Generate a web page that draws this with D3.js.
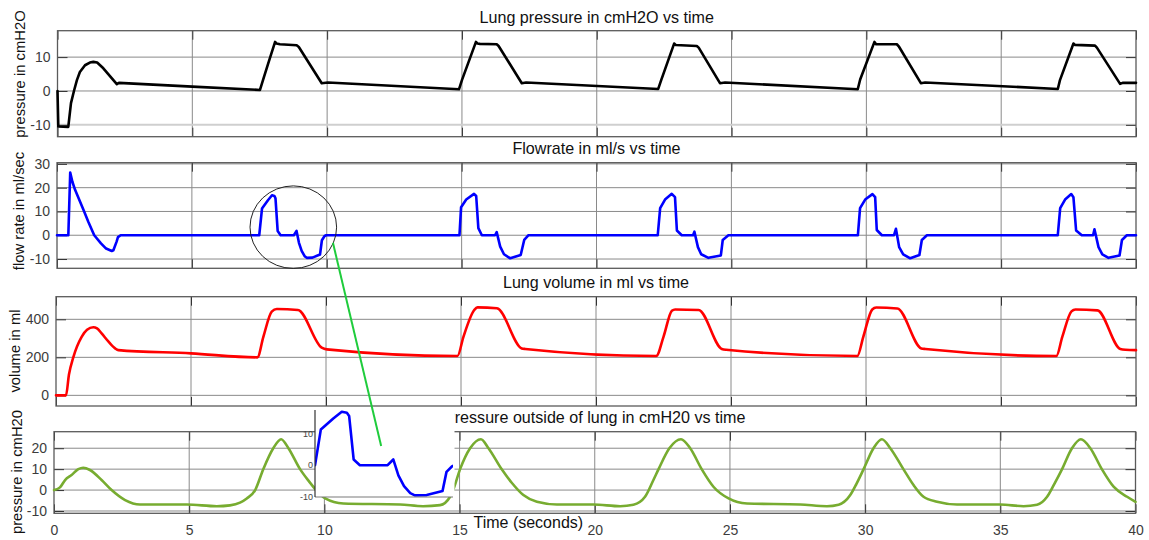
<!DOCTYPE html>
<html><head><meta charset="utf-8">
<script src="https://cdn.jsdelivr.net/npm/d3@7"></script>
<style>
html,body{margin:0;padding:0;background:#fff;}
svg{display:block;font-family:"Liberation Sans",Arial,Helvetica,sans-serif;}
</style></head><body>
<svg id="chart" width="1149" height="540"></svg>
<script>
// ---------------- data ----------------
const timeDomain = [0, 40];
const xTicks = [0, 5, 10, 15, 20, 25, 30, 35, 40];
const pressureTicks = [-10, 0, 10];
const flowTicks = [-10, 0, 10, 20, 30];
const volumeTicks = [0, 200, 400];
const outsideTicks = [-10, 0, 10, 20];
const insetTicks = [-10, 0, 10];

const pressureRange = [-13.5, 17.8];
const flowRange = [-13.9, 30.5];
const volumeRange = [-56, 519];
const outsideRange = [-11.1, 27.9];
const insetFlowRange = [-10, 17.35];
const insetTimeRange = [7.497, 9.935];

// [time (s), lung pressure (cmH2O)]
const lungPressure = [[0,0],[0.03,-10.5],[0.40,-10.6],[0.50,-3.6],[0.61,0],[0.72,3.2],[0.83,5.6],[1.02,7.6],[1.20,8.4],[1.33,8.6],[1.47,8.4],[1.70,6.7],[2.20,2.0],[2.28,2.4],[5.0,1.3],[7.51,0.3],[7.63,3.4],[7.81,8.0],[8.07,14.5],[8.12,14.0],[8.25,13.8],[8.87,13.5],[8.95,13.0],[9.80,2.3],[10.03,2.5],[14.89,0.5],[15.0,3.2],[15.52,14.5],[15.58,14.0],[15.67,13.9],[16.29,13.8],[16.36,13.3],[17.22,2.3],[17.38,2.5],[22.28,0.6],[22.39,3.2],[22.87,14.0],[22.93,13.6],[23.71,13.3],[23.78,12.8],[24.57,2.3],[24.76,2.5],[29.68,0.5],[29.77,3.4],[30.30,14.5],[30.36,13.8],[31.13,13.8],[31.20,13.2],[32.02,2.3],[32.18,2.5],[37.10,0.6],[37.18,3.2],[37.68,14.0],[37.74,13.6],[38.48,13.4],[38.55,12.8],[39.41,2.1],[39.52,2.4],[40,2.4]];

// [time (s), flow rate (ml/s)]
const flowRate = [[0,0],[0.42,0],[0.49,26.4],[0.57,22.5],[0.67,19.1],[0.98,10.7],[1.16,5.7],[1.38,0],[1.63,-3.4],[1.82,-5.6],[2.03,-6.6],[2.09,-6.3],[2.21,-2.7],[2.26,-0.8],[2.36,0],
[7.497,0],[7.60,11.2],[7.82,14.7],[7.97,16.8],[8.06,16.5],[8.10,15.5],[8.18,1.8],[8.29,0],[8.78,0],[8.88,1.8],[8.97,-3.2],[9.07,-6.6],[9.18,-8.8],[9.26,-9.5],[9.47,-9.4],[9.75,-8.1],[9.82,-2.1],[9.92,-0.3],[9.98,0],
[14.92,0],[14.98,11.8],[15.17,15],[15.46,17.4],[15.54,16.5],[15.62,3],[15.75,0],[16.24,0],[16.30,1.3],[16.43,-4.8],[16.57,-8],[16.80,-9.7],[17.19,-8.3],[17.32,-2],[17.48,0],
[22.27,0],[22.36,11.4],[22.54,15],[22.79,17.4],[22.91,16],[22.98,2],[23.16,0],[23.58,0],[23.63,1.5],[23.76,-5],[23.88,-8],[24.15,-9.5],[24.61,-8.5],[24.68,-2],[24.89,0],
[29.69,0],[29.77,11.4],[29.96,15],[30.23,17.3],[30.33,16],[30.39,2.2],[30.58,0],[31.03,0],[31.10,2.7],[31.22,-5],[31.37,-8],[31.63,-9.7],[31.97,-8.3],[32.06,-2],[32.25,0],
[37.10,0],[37.19,11.4],[37.37,15],[37.60,17.3],[37.68,16],[37.78,2],[37.99,0],[38.41,0],[38.46,2.5],[38.61,-5],[38.75,-8],[38.98,-9.5],[39.39,-8.5],[39.48,-2],[39.66,0],[40,0]];

// [time (s), lung volume (ml)]
const lungVolume = [[0,0],[0.37,0],[0.48,110],[0.64,200],[0.95,308],[1.15,345],[1.38,358],[1.52,352],[1.69,326],[1.93,285],[2.19,247],[2.31,238],[5.0,221],[7.46,200],[7.68,308],[7.99,440],[8.18,454],[8.96,449],[9.84,251],[10.03,242],[14.87,207],[15.09,308],[15.49,449],[15.61,463],[16.33,458],[17.25,247],[17.38,244],[22.23,207],[22.50,308],[22.81,445],[22.93,452],[23.80,449],[24.66,244],[24.82,240],[29.68,207],[29.90,308],[30.23,452],[30.38,462],[31.16,457],[32.05,247],[32.20,244],[37.05,207],[37.27,308],[37.61,442],[37.76,452],[38.57,447],[39.42,244],[39.61,240],[40,238]];

// [time (s), pressure outside of lung (cmH2O)]
const outsidePressure = [[0,0],[0.22,1.3],[0.41,4.8],[0.65,7.2],[0.90,10],[1.08,10.7],[1.33,9.6],[1.76,4.8],[2.13,0],[2.63,-4.8],[3.18,-6.9],[4.91,-6.9],[6.02,-7.7],[6.51,-7.3],[6.88,-6.0],[7.13,-4.0],[7.44,0],[7.74,10],[8.11,20],[8.40,24.3],[8.67,20],[9.10,10],[9.41,4.5],[9.66,0.5],[10.03,-4],[10.70,-6.4],[12.80,-6.9],[13.65,-7.7],[14.28,-7.2],[14.65,-3.2],[14.77,0.3],[15.02,10],[15.39,20],[15.79,24.3],[16.07,20],[16.56,9.9],[16.93,3.5],[17.36,-2.4],[17.86,-5.6],[18.60,-6.9],[19.95,-6.9],[20.94,-7.7],[21.43,-7.0],[21.86,-3.2],[22.17,4.8],[22.36,10],[22.76,20],[23.19,24.3],[23.53,20],[23.96,9.9],[24.39,1.6],[24.95,-4.0],[25.63,-6.4],[27.6,-6.9],[28.59,-7.7],[29.02,-7.0],[29.45,-2.4],[29.68,3],[29.94,9.9],[30.31,20],[30.62,24.3],[30.93,20],[31.42,9.9],[31.79,2.4],[32.16,-3.2],[32.66,-5.6],[33.40,-6.9],[35.0,-6.9],[35.86,-7.7],[36.36,-7.0],[36.73,-3.2],[37.0,3],[37.28,9.9],[37.65,20],[37.98,24.3],[38.33,20],[38.76,9.9],[39.19,1.6],[39.69,-3.2],[40,-5.6]];

// annotation: ellipse round a flow detail (time, flow; half-widths) and the connector
const circleCenter = [8.76, 3.4];
const circleRadii = [1.605, 17.35];
const connectorFrom = [10.23, -3.2];   // flow panel coords
const connectorTo = [12.10, 21.05];    // outside-pressure panel coords

// ---------------- layout ----------------
const svg = d3.select("#chart");
const FONT = '"Liberation Sans",Arial,Helvetica,sans-serif';

const panels = [
  {title:"Lung pressure in cmH2O vs time", ylabel:"pressure in cmH2O", data:lungPressure, ticks:pressureTicks, domain:pressureRange,
   color:"#000000", box:[57.5,1136,30.7,136.7], titleY:22.5, ylab:[20,74], curve:d3.curveLinear, xlabels:false},
  {title:"Flowrate in ml/s vs time", ylabel:"flow rate in ml/sec", data:flowRate, ticks:flowTicks, domain:flowRange,
   color:"#0000ff", box:[57,1136,162.7,268.3], titleY:153.5, ylab:[19,211], curve:d3.curveLinear, xlabels:false},
  {title:"Lung volume in ml vs time", ylabel:"volume in ml", data:lungVolume, ticks:volumeTicks, domain:volumeRange,
   color:"#ff0000", box:[56,1136,296.7,406], titleY:288.3, ylab:[15,351], curve:d3.curveMonotoneX, xlabels:false},
  {title:"Pressure outside of lung in cmH20 vs time", ylabel:"pressure in cmH20", data:outsidePressure, ticks:outsideTicks, domain:outsideRange,
   color:"#77ac30", box:[54,1135.5,431.7,513.3], titleY:422.7, ylab:[16.7,472], curve:d3.curveMonotoneX, xlabels:true}
];

const scales = [];
const fmt = d => String(d);

panels.forEach((p, i) => {
  const [l, r, t, b] = p.box;
  const x = d3.scaleLinear(timeDomain, [l, r]);
  const y = d3.scaleLinear(p.domain, [b, t]);
  scales.push({x, y});
  const g = svg.append("g");

  // grid
  g.selectAll(".vg").data(xTicks.slice(1, -1)).join("line")
    .attr("x1", d => x(d)).attr("x2", d => x(d)).attr("y1", t).attr("y2", b)
    .attr("stroke", "#8a8a8a").attr("stroke-width", 1);
  g.selectAll(".hg").data(p.ticks).join("line")
    .attr("x1", l).attr("x2", r).attr("y1", d => y(d)).attr("y2", d => y(d))
    .attr("stroke", (d) => (i === 0 && d === -10) ? "#cfcfcf" : "#8a8a8a")
    .attr("stroke-width", (d) => (i === 0 && d === -10) ? 2 : 1);

  // axes (inward ticks)
  const ax = (axis, tx, ty) => {
    const a = g.append("g").attr("transform", `translate(${tx},${ty})`).call(axis);
    a.select(".domain").remove();
    a.selectAll(".tick line").attr("stroke", "#333");
    a.selectAll("text").attr("fill", "#3c3c3c").style("font-size", "14px").style("font-family", FONT);
    return a;
  };
  ax(d3.axisLeft(y).tickValues(p.ticks).tickSizeInner(-10).tickSizeOuter(0).tickPadding(7).tickFormat(fmt), l, 0);
  ax(d3.axisRight(y).tickValues(p.ticks).tickSizeInner(-10).tickSizeOuter(0).tickFormat(""), r, 0);
  ax(d3.axisTop(x).tickValues(xTicks).tickSizeInner(-9).tickSizeOuter(0).tickFormat(""), 0, t);
  ax(d3.axisBottom(x).tickValues(xTicks).tickSizeInner(-9).tickSizeOuter(0).tickPadding(11.7)
     .tickFormat(p.xlabels ? fmt : ""), 0, b);

  // box
  g.append("rect").attr("x", l).attr("y", t).attr("width", r - l).attr("height", b - t)
    .attr("fill", "none").attr("stroke", "#5a5a5a").attr("stroke-width", 1.3);

  // data line
  g.append("path").datum(p.data)
    .attr("d", d3.line().x(d => x(d[0])).y(d => y(d[1])).curve(p.curve))
    .attr("fill", "none").attr("stroke", p.color).attr("stroke-width", 2.6)
    .attr("stroke-linejoin", "round").attr("stroke-linecap", "round");

  // title
  g.append("text").attr("x", (l + r) / 2).attr("y", p.titleY).attr("text-anchor", "middle")
    .style("font-size", "16.1px").attr("fill", "#111").text(p.title);

  // y label
  g.append("text").attr("transform", `translate(${p.ylab[0]},${p.ylab[1]}) rotate(-90)`)
    .attr("text-anchor", "middle").attr("dy", "0.35em")
    .style("font-size", "14.8px").attr("fill", "#111").text(p.ylabel);
});

// x label
svg.append("text").attr("x", 528.3).attr("y", 527.5).attr("text-anchor", "middle")
  .style("font-size", "16px").attr("fill", "#111").text("Time (seconds)");

// ---------------- inset ----------------
const insetBox = [315, 453, 410, 497];
const ix = d3.scaleLinear(insetTimeRange, [insetBox[0], insetBox[1]]);
const iy = d3.scaleLinear(insetFlowRange, [insetBox[3], insetBox[2]]);
const ig = svg.append("g");
ig.append("rect").attr("x", insetBox[0]).attr("y", insetBox[2])
  .attr("width", insetBox[1] - insetBox[0] + 1.5).attr("height", insetBox[3] - insetBox[2]).attr("fill", "#fff");
svg.append("defs").append("clipPath").attr("id", "insetClip").append("rect")
  .attr("x", insetBox[0]).attr("y", insetBox[2] - 2)
  .attr("width", insetBox[1] - insetBox[0]).attr("height", insetBox[3] - insetBox[2] + 2);
ig.append("path").datum(flowRate)
  .attr("clip-path", "url(#insetClip)")
  .attr("d", d3.line().x(d => ix(d[0])).y(d => iy(d[1])))
  .attr("fill", "none").attr("stroke", "#0000ff").attr("stroke-width", 2.6)
  .attr("stroke-linejoin", "round");
ig.append("line").attr("x1", insetBox[0]).attr("x2", insetBox[1]).attr("y1", insetBox[3]).attr("y2", insetBox[3])
  .attr("stroke", "#7a7a7a").attr("stroke-width", 1.2);
ig.append("line").attr("x1", insetBox[0]).attr("x2", insetBox[0]).attr("y1", insetBox[2]).attr("y2", insetBox[3])
  .attr("stroke", "#333").attr("stroke-width", 1.2);
ig.selectAll(".it").data(insetTicks).join("text")
  .attr("x", insetBox[0] - 2).attr("y", d => iy(d)).attr("dy", "0.35em").attr("text-anchor", "end")
  .style("font-size", "9px").attr("fill", "#444").text(fmt);

// ---------------- annotation ----------------
const s2 = scales[1], s4 = scales[3];
svg.append("ellipse")
  .attr("cx", s2.x(circleCenter[0])).attr("cy", s2.y(circleCenter[1]))
  .attr("rx", s2.x(circleCenter[0] + circleRadii[0]) - s2.x(circleCenter[0]))
  .attr("ry", s2.y(circleCenter[1]) - s2.y(circleCenter[1] + circleRadii[1]))
  .attr("fill", "none").attr("stroke", "#222").attr("stroke-width", 1);
svg.append("line")
  .attr("x1", s2.x(connectorFrom[0])).attr("y1", s2.y(connectorFrom[1]))
  .attr("x2", s4.x(connectorTo[0])).attr("y2", s4.y(connectorTo[1]))
  .attr("stroke", "#1fcc3c").attr("stroke-width", 2);
</script>
</body></html>
